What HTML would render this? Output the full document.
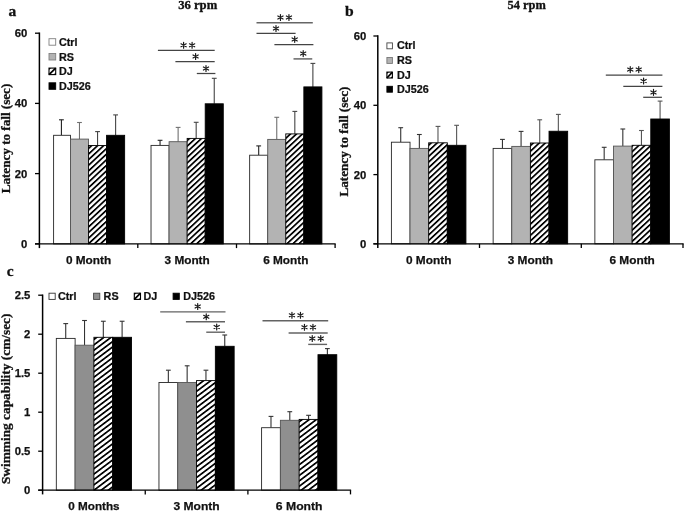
<!DOCTYPE html>
<html><head><meta charset="utf-8"><title>Figure</title>
<style>html,body{margin:0;padding:0;background:#fff;overflow:hidden;}svg{display:block;will-change:transform;}.sb{font-family:"Liberation Sans",sans-serif;font-weight:bold;fill:#111;stroke:#111;stroke-width:0.25px;}.rb{font-family:"Liberation Serif",serif;font-weight:bold;fill:#111;stroke:#111;stroke-width:0.3px;}.st{font-family:"Liberation Serif",serif;font-size:17.5px;fill:#222;stroke:#222;stroke-width:0.3px;}</style></head><body>
<svg width="685" height="512" viewBox="0 0 685 512">
<defs>
<pattern id="ha" patternUnits="userSpaceOnUse" width="4.1" height="4.1" patternTransform="rotate(-43)"><rect x="0" y="0" width="4.1" height="4.1" fill="#fff"/><rect x="0" y="0" width="4.1" height="1.75" fill="#000"/></pattern>
<pattern id="hb" patternUnits="userSpaceOnUse" width="4.1" height="4.1" patternTransform="rotate(-43)"><rect x="0" y="0" width="4.1" height="4.1" fill="#fff"/><rect x="0" y="0" width="4.1" height="1.75" fill="#000"/></pattern>
<pattern id="hc" patternUnits="userSpaceOnUse" width="4.3" height="4.3" patternTransform="rotate(-37)"><rect x="0" y="0" width="4.3" height="4.3" fill="#fff"/><rect x="0" y="0" width="4.3" height="1.7" fill="#000"/></pattern>
</defs>
<rect x="0" y="0" width="685" height="512" fill="#fff"/>
<line x1="61.42" y1="119.80" x2="61.42" y2="135.30" stroke="#222" stroke-width="1.1"/>
<line x1="59.02" y1="119.80" x2="63.82" y2="119.80" stroke="#222" stroke-width="1.1"/>
<rect x="53.60" y="135.30" width="16.85" height="108.60" fill="#fff" stroke="#262626" stroke-width="0.9"/>
<line x1="79.48" y1="122.50" x2="79.48" y2="139.10" stroke="#707070" stroke-width="1.1"/>
<line x1="77.08" y1="122.50" x2="81.88" y2="122.50" stroke="#707070" stroke-width="1.1"/>
<rect x="70.45" y="139.10" width="18.06" height="104.80" fill="#b3b3b3" stroke="#555" stroke-width="0.9"/>
<line x1="97.55" y1="131.60" x2="97.55" y2="145.50" stroke="#444" stroke-width="1.1"/>
<line x1="95.15" y1="131.60" x2="99.95" y2="131.60" stroke="#444" stroke-width="1.1"/>
<rect x="88.52" y="145.50" width="18.06" height="98.40" fill="#fff"/>
<rect x="88.52" y="145.50" width="18.06" height="98.40" fill="url(#ha)" stroke="#000" stroke-width="0.9"/>
<line x1="115.61" y1="114.90" x2="115.61" y2="135.30" stroke="#444" stroke-width="1.1"/>
<line x1="113.21" y1="114.90" x2="118.01" y2="114.90" stroke="#444" stroke-width="1.1"/>
<rect x="106.58" y="135.30" width="18.06" height="108.60" fill="#000" stroke="#000" stroke-width="0.9"/>
<line x1="160.05" y1="140.30" x2="160.05" y2="145.40" stroke="#222" stroke-width="1.1"/>
<line x1="157.65" y1="140.30" x2="162.45" y2="140.30" stroke="#222" stroke-width="1.1"/>
<rect x="151.02" y="145.40" width="18.06" height="98.50" fill="#fff" stroke="#262626" stroke-width="0.9"/>
<line x1="178.12" y1="127.40" x2="178.12" y2="141.70" stroke="#707070" stroke-width="1.1"/>
<line x1="175.72" y1="127.40" x2="180.52" y2="127.40" stroke="#707070" stroke-width="1.1"/>
<rect x="169.09" y="141.70" width="18.06" height="102.20" fill="#b3b3b3" stroke="#555" stroke-width="0.9"/>
<line x1="196.18" y1="122.30" x2="196.18" y2="138.40" stroke="#444" stroke-width="1.1"/>
<line x1="193.78" y1="122.30" x2="198.58" y2="122.30" stroke="#444" stroke-width="1.1"/>
<rect x="187.15" y="138.40" width="18.06" height="105.50" fill="#fff"/>
<rect x="187.15" y="138.40" width="18.06" height="105.50" fill="url(#ha)" stroke="#000" stroke-width="0.9"/>
<line x1="214.25" y1="78.30" x2="214.25" y2="103.80" stroke="#444" stroke-width="1.1"/>
<line x1="211.85" y1="78.30" x2="216.65" y2="78.30" stroke="#444" stroke-width="1.1"/>
<rect x="205.21" y="103.80" width="18.06" height="140.10" fill="#000" stroke="#000" stroke-width="0.9"/>
<line x1="258.69" y1="145.90" x2="258.69" y2="155.20" stroke="#222" stroke-width="1.1"/>
<line x1="256.29" y1="145.90" x2="261.09" y2="145.90" stroke="#222" stroke-width="1.1"/>
<rect x="249.65" y="155.20" width="18.06" height="88.70" fill="#fff" stroke="#262626" stroke-width="0.9"/>
<line x1="276.75" y1="117.30" x2="276.75" y2="139.40" stroke="#707070" stroke-width="1.1"/>
<line x1="274.35" y1="117.30" x2="279.15" y2="117.30" stroke="#707070" stroke-width="1.1"/>
<rect x="267.72" y="139.40" width="18.06" height="104.50" fill="#b3b3b3" stroke="#555" stroke-width="0.9"/>
<line x1="294.82" y1="111.40" x2="294.82" y2="133.90" stroke="#444" stroke-width="1.1"/>
<line x1="292.42" y1="111.40" x2="297.22" y2="111.40" stroke="#444" stroke-width="1.1"/>
<rect x="285.78" y="133.90" width="18.06" height="110.00" fill="#fff"/>
<rect x="285.78" y="133.90" width="18.06" height="110.00" fill="url(#ha)" stroke="#000" stroke-width="0.9"/>
<line x1="312.88" y1="63.40" x2="312.88" y2="86.90" stroke="#444" stroke-width="1.1"/>
<line x1="310.48" y1="63.40" x2="315.28" y2="63.40" stroke="#444" stroke-width="1.1"/>
<rect x="303.85" y="86.90" width="18.06" height="157.00" fill="#000" stroke="#000" stroke-width="0.9"/>
<line x1="39.40" y1="32.50" x2="39.40" y2="248.10" stroke="#000" stroke-width="1.5"/>
<line x1="35.00" y1="243.90" x2="335.70" y2="243.90" stroke="#000" stroke-width="1.3"/>
<line x1="137.80" y1="243.90" x2="137.80" y2="248.10" stroke="#000" stroke-width="1.3"/>
<line x1="236.50" y1="243.90" x2="236.50" y2="248.10" stroke="#000" stroke-width="1.3"/>
<line x1="335.10" y1="243.90" x2="335.10" y2="248.10" stroke="#000" stroke-width="1.3"/>
<line x1="35.00" y1="33.20" x2="39.40" y2="33.20" stroke="#000" stroke-width="1.3"/>
<text x="27.30" y="37.20" text-anchor="end" class="sb" font-size="11.3">60</text>
<line x1="35.00" y1="103.40" x2="39.40" y2="103.40" stroke="#000" stroke-width="1.3"/>
<text x="27.30" y="107.40" text-anchor="end" class="sb" font-size="11.3">40</text>
<line x1="35.00" y1="173.60" x2="39.40" y2="173.60" stroke="#000" stroke-width="1.3"/>
<text x="27.30" y="177.60" text-anchor="end" class="sb" font-size="11.3">20</text>
<line x1="35.00" y1="243.90" x2="39.40" y2="243.90" stroke="#000" stroke-width="1.3"/>
<text x="27.30" y="247.90" text-anchor="end" class="sb" font-size="11.3">0</text>
<text x="88.52" y="264.40" text-anchor="middle" class="sb" font-size="11.8" textLength="45.2" lengthAdjust="spacingAndGlyphs">0 Month</text>
<text x="187.15" y="264.40" text-anchor="middle" class="sb" font-size="11.8" textLength="45.2" lengthAdjust="spacingAndGlyphs">3 Month</text>
<text x="285.78" y="264.40" text-anchor="middle" class="sb" font-size="11.8" textLength="45.2" lengthAdjust="spacingAndGlyphs">6 Month</text>
<line x1="157.90" y1="50.35" x2="214.70" y2="50.35" stroke="#444" stroke-width="1.25"/>
<line x1="175.40" y1="61.50" x2="214.70" y2="61.50" stroke="#444" stroke-width="1.25"/>
<line x1="196.80" y1="73.50" x2="215.40" y2="73.50" stroke="#444" stroke-width="1.25"/>
<line x1="256.50" y1="22.80" x2="312.80" y2="22.80" stroke="#666" stroke-width="1.5"/>
<line x1="256.50" y1="33.40" x2="295.60" y2="33.40" stroke="#444" stroke-width="1.25"/>
<line x1="274.40" y1="44.70" x2="313.40" y2="44.70" stroke="#444" stroke-width="1.25"/>
<line x1="293.50" y1="58.90" x2="312.25" y2="58.90" stroke="#666" stroke-width="1.5"/>
<path d="M183.60,42.35L183.60,48.25M181.00,43.80L186.20,46.80M181.00,46.80L186.20,43.80" stroke="#1a1a1a" stroke-width="1.2" stroke-linecap="round" fill="none"/>
<path d="M192.10,42.35L192.10,48.25M189.50,43.80L194.70,46.80M189.50,46.80L194.70,43.80" stroke="#1a1a1a" stroke-width="1.2" stroke-linecap="round" fill="none"/>
<path d="M195.60,53.50L195.60,59.40M193.00,54.95L198.20,57.95M193.00,57.95L198.20,54.95" stroke="#1a1a1a" stroke-width="1.2" stroke-linecap="round" fill="none"/>
<path d="M206.00,65.55L206.00,71.45M203.40,67.00L208.60,70.00M203.40,70.00L208.60,67.00" stroke="#1a1a1a" stroke-width="1.2" stroke-linecap="round" fill="none"/>
<path d="M280.45,14.55L280.45,20.45M277.85,16.00L283.05,19.00M277.85,19.00L283.05,16.00" stroke="#1a1a1a" stroke-width="1.2" stroke-linecap="round" fill="none"/>
<path d="M288.95,14.55L288.95,20.45M286.35,16.00L291.55,19.00M286.35,19.00L291.55,16.00" stroke="#1a1a1a" stroke-width="1.2" stroke-linecap="round" fill="none"/>
<path d="M276.00,25.55L276.00,31.45M273.40,27.00L278.60,30.00M273.40,30.00L278.60,27.00" stroke="#1a1a1a" stroke-width="1.2" stroke-linecap="round" fill="none"/>
<path d="M294.70,36.45L294.70,42.35M292.10,37.90L297.30,40.90M292.10,40.90L297.30,37.90" stroke="#1a1a1a" stroke-width="1.2" stroke-linecap="round" fill="none"/>
<path d="M303.20,50.65L303.20,56.55M300.60,52.10L305.80,55.10M300.60,55.10L305.80,52.10" stroke="#1a1a1a" stroke-width="1.2" stroke-linecap="round" fill="none"/>
<rect x="49.00" y="38.70" width="6.7" height="6.5" fill="#fff" stroke="#808080" stroke-width="0.9"/>
<text transform="translate(59.00,45.80) scale(0.955,1)" class="sb" font-size="11.3">Ctrl</text>
<rect x="49.00" y="53.50" width="6.7" height="6.5" fill="#b3b3b3" stroke="#808080" stroke-width="0.9"/>
<text transform="translate(59.00,60.60) scale(0.955,1)" class="sb" font-size="11.3">RS</text>
<rect x="49.00" y="68.10" width="6.7" height="6.5" fill="#fff" stroke="#000" stroke-width="1.1"/>
<line x1="49.00" y1="74.60" x2="55.70" y2="68.10" stroke="#000" stroke-width="1.7"/>
<path d="M49.00,68.10h2.0l-2.0,2.0zM55.70,74.60h-2.0l2.0,-2.0z" fill="#000"/>
<text transform="translate(59.00,75.20) scale(0.955,1)" class="sb" font-size="11.3">DJ</text>
<rect x="49.00" y="82.80" width="6.7" height="6.5" fill="#000" stroke="#000" stroke-width="0.9"/>
<text transform="translate(59.00,89.90) scale(0.955,1)" class="sb" font-size="11.3">DJ526</text>
<text x="8.4" y="15.8" class="rb" font-size="15.5">a</text>
<text x="197.7" y="9.3" text-anchor="middle" class="rb" font-size="12" textLength="39.1" lengthAdjust="spacingAndGlyphs">36 rpm</text>
<text transform="translate(10.1,138.5) rotate(-90)" text-anchor="middle" class="rb" font-size="12" textLength="109.6" lengthAdjust="spacingAndGlyphs">Latency to fall (sec)</text>
<line x1="400.72" y1="127.70" x2="400.72" y2="142.20" stroke="#333" stroke-width="1.1"/>
<line x1="398.32" y1="127.70" x2="403.12" y2="127.70" stroke="#333" stroke-width="1.1"/>
<rect x="391.40" y="142.20" width="18.63" height="101.60" fill="#fff" stroke="#262626" stroke-width="0.9"/>
<line x1="419.35" y1="134.50" x2="419.35" y2="148.40" stroke="#333" stroke-width="1.1"/>
<line x1="416.95" y1="134.50" x2="421.75" y2="134.50" stroke="#333" stroke-width="1.1"/>
<rect x="410.03" y="148.40" width="18.63" height="95.40" fill="#b3b3b3" stroke="#555" stroke-width="0.9"/>
<line x1="437.98" y1="126.40" x2="437.98" y2="142.80" stroke="#555" stroke-width="1.1"/>
<line x1="435.58" y1="126.40" x2="440.38" y2="126.40" stroke="#555" stroke-width="1.1"/>
<rect x="428.67" y="142.80" width="18.63" height="101.00" fill="#fff"/>
<rect x="428.67" y="142.80" width="18.63" height="101.00" fill="url(#hb)" stroke="#000" stroke-width="0.9"/>
<line x1="456.62" y1="125.30" x2="456.62" y2="145.30" stroke="#555" stroke-width="1.1"/>
<line x1="454.22" y1="125.30" x2="459.02" y2="125.30" stroke="#555" stroke-width="1.1"/>
<rect x="447.30" y="145.30" width="18.63" height="98.50" fill="#000" stroke="#000" stroke-width="0.9"/>
<line x1="502.45" y1="139.40" x2="502.45" y2="148.40" stroke="#333" stroke-width="1.1"/>
<line x1="500.05" y1="139.40" x2="504.85" y2="139.40" stroke="#333" stroke-width="1.1"/>
<rect x="493.14" y="148.40" width="18.63" height="95.40" fill="#fff" stroke="#262626" stroke-width="0.9"/>
<line x1="521.08" y1="131.40" x2="521.08" y2="146.40" stroke="#333" stroke-width="1.1"/>
<line x1="518.68" y1="131.40" x2="523.48" y2="131.40" stroke="#333" stroke-width="1.1"/>
<rect x="511.77" y="146.40" width="18.63" height="97.40" fill="#b3b3b3" stroke="#555" stroke-width="0.9"/>
<line x1="539.72" y1="119.80" x2="539.72" y2="143.00" stroke="#555" stroke-width="1.1"/>
<line x1="537.32" y1="119.80" x2="542.12" y2="119.80" stroke="#555" stroke-width="1.1"/>
<rect x="530.40" y="143.00" width="18.63" height="100.80" fill="#fff"/>
<rect x="530.40" y="143.00" width="18.63" height="100.80" fill="url(#hb)" stroke="#000" stroke-width="0.9"/>
<line x1="558.35" y1="114.40" x2="558.35" y2="131.25" stroke="#555" stroke-width="1.1"/>
<line x1="555.95" y1="114.40" x2="560.75" y2="114.40" stroke="#555" stroke-width="1.1"/>
<rect x="549.03" y="131.25" width="18.63" height="112.55" fill="#000" stroke="#000" stroke-width="0.9"/>
<line x1="604.18" y1="147.30" x2="604.18" y2="159.80" stroke="#333" stroke-width="1.1"/>
<line x1="601.78" y1="147.30" x2="606.58" y2="147.30" stroke="#333" stroke-width="1.1"/>
<rect x="594.87" y="159.80" width="18.63" height="84.00" fill="#fff" stroke="#262626" stroke-width="0.9"/>
<line x1="622.82" y1="129.00" x2="622.82" y2="146.10" stroke="#333" stroke-width="1.1"/>
<line x1="620.42" y1="129.00" x2="625.22" y2="129.00" stroke="#333" stroke-width="1.1"/>
<rect x="613.50" y="146.10" width="18.63" height="97.70" fill="#b3b3b3" stroke="#555" stroke-width="0.9"/>
<line x1="641.45" y1="130.50" x2="641.45" y2="145.30" stroke="#555" stroke-width="1.1"/>
<line x1="639.05" y1="130.50" x2="643.85" y2="130.50" stroke="#555" stroke-width="1.1"/>
<rect x="632.13" y="145.30" width="18.63" height="98.50" fill="#fff"/>
<rect x="632.13" y="145.30" width="18.63" height="98.50" fill="url(#hb)" stroke="#000" stroke-width="0.9"/>
<line x1="660.08" y1="101.10" x2="660.08" y2="119.00" stroke="#555" stroke-width="1.1"/>
<line x1="657.68" y1="101.10" x2="662.48" y2="101.10" stroke="#555" stroke-width="1.1"/>
<rect x="650.77" y="119.00" width="18.63" height="124.80" fill="#000" stroke="#000" stroke-width="0.9"/>
<line x1="377.80" y1="35.30" x2="377.80" y2="248.00" stroke="#000" stroke-width="1.5"/>
<line x1="373.40" y1="243.80" x2="683.60" y2="243.80" stroke="#000" stroke-width="1.3"/>
<line x1="479.50" y1="243.80" x2="479.50" y2="248.00" stroke="#000" stroke-width="1.3"/>
<line x1="581.30" y1="243.80" x2="581.30" y2="248.00" stroke="#000" stroke-width="1.3"/>
<line x1="683.00" y1="243.80" x2="683.00" y2="248.00" stroke="#000" stroke-width="1.3"/>
<line x1="373.40" y1="36.00" x2="377.80" y2="36.00" stroke="#000" stroke-width="1.3"/>
<text x="366.40" y="40.00" text-anchor="end" class="sb" font-size="11.3">60</text>
<line x1="373.40" y1="105.30" x2="377.80" y2="105.30" stroke="#000" stroke-width="1.3"/>
<text x="366.40" y="109.30" text-anchor="end" class="sb" font-size="11.3">40</text>
<line x1="373.40" y1="174.60" x2="377.80" y2="174.60" stroke="#000" stroke-width="1.3"/>
<text x="366.40" y="178.60" text-anchor="end" class="sb" font-size="11.3">20</text>
<line x1="373.40" y1="243.80" x2="377.80" y2="243.80" stroke="#000" stroke-width="1.3"/>
<text x="366.40" y="247.80" text-anchor="end" class="sb" font-size="11.3">0</text>
<text x="428.67" y="264.30" text-anchor="middle" class="sb" font-size="11.8" textLength="45.4" lengthAdjust="spacingAndGlyphs">0 Month</text>
<text x="530.40" y="264.30" text-anchor="middle" class="sb" font-size="11.8" textLength="45.4" lengthAdjust="spacingAndGlyphs">3 Month</text>
<text x="632.13" y="264.30" text-anchor="middle" class="sb" font-size="11.8" textLength="45.4" lengthAdjust="spacingAndGlyphs">6 Month</text>
<line x1="605.80" y1="75.00" x2="662.40" y2="75.00" stroke="#444" stroke-width="1.25"/>
<line x1="623.30" y1="86.40" x2="662.40" y2="86.40" stroke="#444" stroke-width="1.25"/>
<line x1="643.20" y1="97.30" x2="661.90" y2="97.30" stroke="#444" stroke-width="1.25"/>
<path d="M630.25,66.65L630.25,72.55M627.65,68.10L632.85,71.10M627.65,71.10L632.85,68.10" stroke="#1a1a1a" stroke-width="1.2" stroke-linecap="round" fill="none"/>
<path d="M638.75,66.65L638.75,72.55M636.15,68.10L641.35,71.10M636.15,71.10L641.35,68.10" stroke="#1a1a1a" stroke-width="1.2" stroke-linecap="round" fill="none"/>
<path d="M643.60,78.05L643.60,83.95M641.00,79.50L646.20,82.50M641.00,82.50L646.20,79.50" stroke="#1a1a1a" stroke-width="1.2" stroke-linecap="round" fill="none"/>
<path d="M653.50,89.45L653.50,95.35M650.90,90.90L656.10,93.90M650.90,93.90L656.10,90.90" stroke="#1a1a1a" stroke-width="1.2" stroke-linecap="round" fill="none"/>
<rect x="386.90" y="42.90" width="5.5" height="5.9" fill="#fff" stroke="#444" stroke-width="0.9"/>
<text transform="translate(396.90,49.40) scale(0.955,1)" class="sb" font-size="11.3">Ctrl</text>
<rect x="386.90" y="57.50" width="5.5" height="5.9" fill="#b3b3b3" stroke="#777" stroke-width="0.9"/>
<text transform="translate(396.90,64.00) scale(0.955,1)" class="sb" font-size="11.3">RS</text>
<rect x="386.90" y="72.10" width="5.5" height="5.9" fill="#fff" stroke="#000" stroke-width="1.1"/>
<line x1="386.90" y1="78.00" x2="392.40" y2="72.10" stroke="#000" stroke-width="1.7"/>
<path d="M386.90,72.10h2.0l-2.0,2.0zM392.40,78.00h-2.0l2.0,-2.0z" fill="#000"/>
<text transform="translate(396.90,78.60) scale(0.955,1)" class="sb" font-size="11.3">DJ</text>
<rect x="386.90" y="86.30" width="5.5" height="5.9" fill="#000" stroke="#000" stroke-width="0.9"/>
<text transform="translate(396.90,92.80) scale(0.955,1)" class="sb" font-size="11.3">DJ526</text>
<text x="344.9" y="16.1" class="rb" font-size="15.6">b</text>
<text x="526.7" y="9.1" text-anchor="middle" class="rb" font-size="12" textLength="38.3" lengthAdjust="spacingAndGlyphs">54 rpm</text>
<text transform="translate(348.3,141.6) rotate(-90)" text-anchor="middle" class="rb" font-size="12" textLength="110" lengthAdjust="spacingAndGlyphs">Latency to fall (sec)</text>
<line x1="65.72" y1="323.60" x2="65.72" y2="338.40" stroke="#333" stroke-width="1.1"/>
<line x1="63.32" y1="323.60" x2="68.12" y2="323.60" stroke="#333" stroke-width="1.1"/>
<rect x="56.32" y="338.40" width="18.80" height="151.80" fill="#fff" stroke="#262626" stroke-width="0.9"/>
<line x1="84.52" y1="320.50" x2="84.52" y2="345.20" stroke="#333" stroke-width="1.1"/>
<line x1="82.12" y1="320.50" x2="86.92" y2="320.50" stroke="#333" stroke-width="1.1"/>
<rect x="75.12" y="345.20" width="18.80" height="145.00" fill="#8f8f8f" stroke="#555" stroke-width="0.9"/>
<line x1="103.32" y1="321.25" x2="103.32" y2="337.30" stroke="#333" stroke-width="1.1"/>
<line x1="100.92" y1="321.25" x2="105.72" y2="321.25" stroke="#333" stroke-width="1.1"/>
<rect x="93.92" y="337.30" width="18.80" height="152.90" fill="#fff"/>
<rect x="93.92" y="337.30" width="18.80" height="152.90" fill="url(#hc)" stroke="#000" stroke-width="0.9"/>
<line x1="122.11" y1="321.25" x2="122.11" y2="337.30" stroke="#333" stroke-width="1.1"/>
<line x1="119.71" y1="321.25" x2="124.51" y2="321.25" stroke="#333" stroke-width="1.1"/>
<rect x="112.71" y="337.30" width="18.80" height="152.90" fill="#000" stroke="#000" stroke-width="0.9"/>
<line x1="168.35" y1="370.20" x2="168.35" y2="382.50" stroke="#333" stroke-width="1.1"/>
<line x1="165.95" y1="370.20" x2="170.75" y2="370.20" stroke="#333" stroke-width="1.1"/>
<rect x="158.96" y="382.50" width="18.80" height="107.70" fill="#fff" stroke="#262626" stroke-width="0.9"/>
<line x1="187.15" y1="365.80" x2="187.15" y2="382.50" stroke="#333" stroke-width="1.1"/>
<line x1="184.75" y1="365.80" x2="189.55" y2="365.80" stroke="#333" stroke-width="1.1"/>
<rect x="177.75" y="382.50" width="18.80" height="107.70" fill="#8f8f8f" stroke="#555" stroke-width="0.9"/>
<line x1="205.95" y1="370.20" x2="205.95" y2="380.60" stroke="#333" stroke-width="1.1"/>
<line x1="203.55" y1="370.20" x2="208.35" y2="370.20" stroke="#333" stroke-width="1.1"/>
<rect x="196.55" y="380.60" width="18.80" height="109.60" fill="#fff"/>
<rect x="196.55" y="380.60" width="18.80" height="109.60" fill="url(#hc)" stroke="#000" stroke-width="0.9"/>
<line x1="224.75" y1="335.00" x2="224.75" y2="346.30" stroke="#333" stroke-width="1.1"/>
<line x1="222.35" y1="335.00" x2="227.15" y2="335.00" stroke="#333" stroke-width="1.1"/>
<rect x="215.35" y="346.30" width="18.80" height="143.90" fill="#000" stroke="#000" stroke-width="0.9"/>
<line x1="270.99" y1="416.40" x2="270.99" y2="427.70" stroke="#333" stroke-width="1.1"/>
<line x1="268.59" y1="416.40" x2="273.39" y2="416.40" stroke="#333" stroke-width="1.1"/>
<rect x="261.59" y="427.70" width="18.80" height="62.50" fill="#fff" stroke="#262626" stroke-width="0.9"/>
<line x1="289.78" y1="411.70" x2="289.78" y2="420.30" stroke="#333" stroke-width="1.1"/>
<line x1="287.38" y1="411.70" x2="292.18" y2="411.70" stroke="#333" stroke-width="1.1"/>
<rect x="280.39" y="420.30" width="18.80" height="69.90" fill="#8f8f8f" stroke="#555" stroke-width="0.9"/>
<line x1="308.58" y1="415.30" x2="308.58" y2="419.40" stroke="#333" stroke-width="1.1"/>
<line x1="306.18" y1="415.30" x2="310.98" y2="415.30" stroke="#333" stroke-width="1.1"/>
<rect x="299.18" y="419.40" width="18.80" height="70.80" fill="#fff"/>
<rect x="299.18" y="419.40" width="18.80" height="70.80" fill="url(#hc)" stroke="#000" stroke-width="0.9"/>
<line x1="327.38" y1="348.60" x2="327.38" y2="354.70" stroke="#333" stroke-width="1.1"/>
<line x1="324.98" y1="348.60" x2="329.78" y2="348.60" stroke="#333" stroke-width="1.1"/>
<rect x="317.98" y="354.70" width="18.80" height="135.50" fill="#000" stroke="#000" stroke-width="0.9"/>
<line x1="42.60" y1="294.50" x2="42.60" y2="494.40" stroke="#000" stroke-width="1.5"/>
<line x1="38.20" y1="490.20" x2="351.10" y2="490.20" stroke="#000" stroke-width="1.3"/>
<line x1="145.25" y1="490.20" x2="145.25" y2="494.40" stroke="#000" stroke-width="1.3"/>
<line x1="247.90" y1="490.20" x2="247.90" y2="494.40" stroke="#000" stroke-width="1.3"/>
<line x1="350.50" y1="490.20" x2="350.50" y2="494.40" stroke="#000" stroke-width="1.3"/>
<line x1="38.20" y1="295.20" x2="42.60" y2="295.20" stroke="#000" stroke-width="1.3"/>
<text x="30.40" y="299.20" text-anchor="end" class="sb" font-size="11.3">2.5</text>
<line x1="38.20" y1="334.20" x2="42.60" y2="334.20" stroke="#000" stroke-width="1.3"/>
<text x="30.40" y="338.20" text-anchor="end" class="sb" font-size="11.3">2</text>
<line x1="38.20" y1="373.20" x2="42.60" y2="373.20" stroke="#000" stroke-width="1.3"/>
<text x="30.40" y="377.20" text-anchor="end" class="sb" font-size="11.3">1.5</text>
<line x1="38.20" y1="412.20" x2="42.60" y2="412.20" stroke="#000" stroke-width="1.3"/>
<text x="30.40" y="416.20" text-anchor="end" class="sb" font-size="11.3">1</text>
<line x1="38.20" y1="451.20" x2="42.60" y2="451.20" stroke="#000" stroke-width="1.3"/>
<text x="30.40" y="455.20" text-anchor="end" class="sb" font-size="11.3">0.5</text>
<line x1="38.20" y1="490.20" x2="42.60" y2="490.20" stroke="#000" stroke-width="1.3"/>
<text x="30.40" y="494.20" text-anchor="end" class="sb" font-size="11.3">0</text>
<text x="93.92" y="509.60" text-anchor="middle" class="sb" font-size="11.8" textLength="51.4" lengthAdjust="spacingAndGlyphs">0 Months</text>
<text x="196.55" y="509.60" text-anchor="middle" class="sb" font-size="11.8" textLength="46.3" lengthAdjust="spacingAndGlyphs">3 Month</text>
<text x="299.18" y="509.60" text-anchor="middle" class="sb" font-size="11.8" textLength="46.7" lengthAdjust="spacingAndGlyphs">6 Month</text>
<line x1="160.20" y1="311.90" x2="225.50" y2="311.90" stroke="#636363" stroke-width="1.4"/>
<line x1="185.90" y1="321.70" x2="225.00" y2="321.70" stroke="#636363" stroke-width="1.4"/>
<line x1="206.25" y1="332.20" x2="225.00" y2="332.20" stroke="#636363" stroke-width="1.4"/>
<line x1="262.50" y1="320.80" x2="328.20" y2="320.80" stroke="#636363" stroke-width="1.4"/>
<line x1="288.60" y1="333.00" x2="327.70" y2="333.00" stroke="#636363" stroke-width="1.4"/>
<line x1="308.20" y1="344.40" x2="327.10" y2="344.40" stroke="#636363" stroke-width="1.4"/>
<path d="M197.70,303.55L197.70,309.45M195.10,305.00L200.30,308.00M195.10,308.00L200.30,305.00" stroke="#1a1a1a" stroke-width="1.2" stroke-linecap="round" fill="none"/>
<path d="M206.25,313.85L206.25,319.75M203.65,315.30L208.85,318.30M203.65,318.30L208.85,315.30" stroke="#1a1a1a" stroke-width="1.2" stroke-linecap="round" fill="none"/>
<path d="M216.70,324.05L216.70,329.95M214.10,325.50L219.30,328.50M214.10,328.50L219.30,325.50" stroke="#1a1a1a" stroke-width="1.2" stroke-linecap="round" fill="none"/>
<path d="M291.95,312.35L291.95,318.25M289.35,313.80L294.55,316.80M289.35,316.80L294.55,313.80" stroke="#1a1a1a" stroke-width="1.2" stroke-linecap="round" fill="none"/>
<path d="M300.45,312.35L300.45,318.25M297.85,313.80L303.05,316.80M297.85,316.80L303.05,313.80" stroke="#1a1a1a" stroke-width="1.2" stroke-linecap="round" fill="none"/>
<path d="M304.45,324.35L304.45,330.25M301.85,325.80L307.05,328.80M301.85,328.80L307.05,325.80" stroke="#1a1a1a" stroke-width="1.2" stroke-linecap="round" fill="none"/>
<path d="M312.95,324.35L312.95,330.25M310.35,325.80L315.55,328.80M310.35,328.80L315.55,325.80" stroke="#1a1a1a" stroke-width="1.2" stroke-linecap="round" fill="none"/>
<path d="M312.25,335.55L312.25,341.45M309.65,337.00L314.85,340.00M309.65,340.00L314.85,337.00" stroke="#1a1a1a" stroke-width="1.2" stroke-linecap="round" fill="none"/>
<path d="M320.75,335.55L320.75,341.45M318.15,337.00L323.35,340.00M318.15,340.00L323.35,337.00" stroke="#1a1a1a" stroke-width="1.2" stroke-linecap="round" fill="none"/>
<rect x="49.00" y="293.20" width="6.2" height="6.2" fill="#fff" stroke="#333" stroke-width="0.9"/>
<text transform="translate(58.00,299.60) scale(0.955,1)" class="sb" font-size="11.3">Ctrl</text>
<rect x="93.60" y="293.20" width="6.2" height="6.2" fill="#8f8f8f" stroke="#444" stroke-width="0.9"/>
<text transform="translate(103.60,299.60) scale(0.955,1)" class="sb" font-size="11.3">RS</text>
<rect x="134.30" y="293.20" width="6.2" height="6.2" fill="#fff" stroke="#000" stroke-width="1.1"/>
<line x1="134.30" y1="299.40" x2="140.50" y2="293.20" stroke="#000" stroke-width="1.7"/>
<path d="M134.30,293.20h2.0l-2.0,2.0zM140.50,299.40h-2.0l2.0,-2.0z" fill="#000"/>
<text transform="translate(143.40,299.60) scale(0.955,1)" class="sb" font-size="11.3">DJ</text>
<rect x="173.10" y="293.20" width="6.2" height="6.2" fill="#000" stroke="#000" stroke-width="0.9"/>
<text transform="translate(183.20,299.60) scale(0.955,1)" class="sb" font-size="11.3">DJ526</text>
<text x="6.8" y="276.4" class="rb" font-size="15.5">c</text>
<text transform="translate(10.4,398.8) rotate(-90)" text-anchor="middle" class="rb" font-size="12" textLength="170.6" lengthAdjust="spacingAndGlyphs">Swimming capability (cm/sec)</text>
</svg></body></html>
